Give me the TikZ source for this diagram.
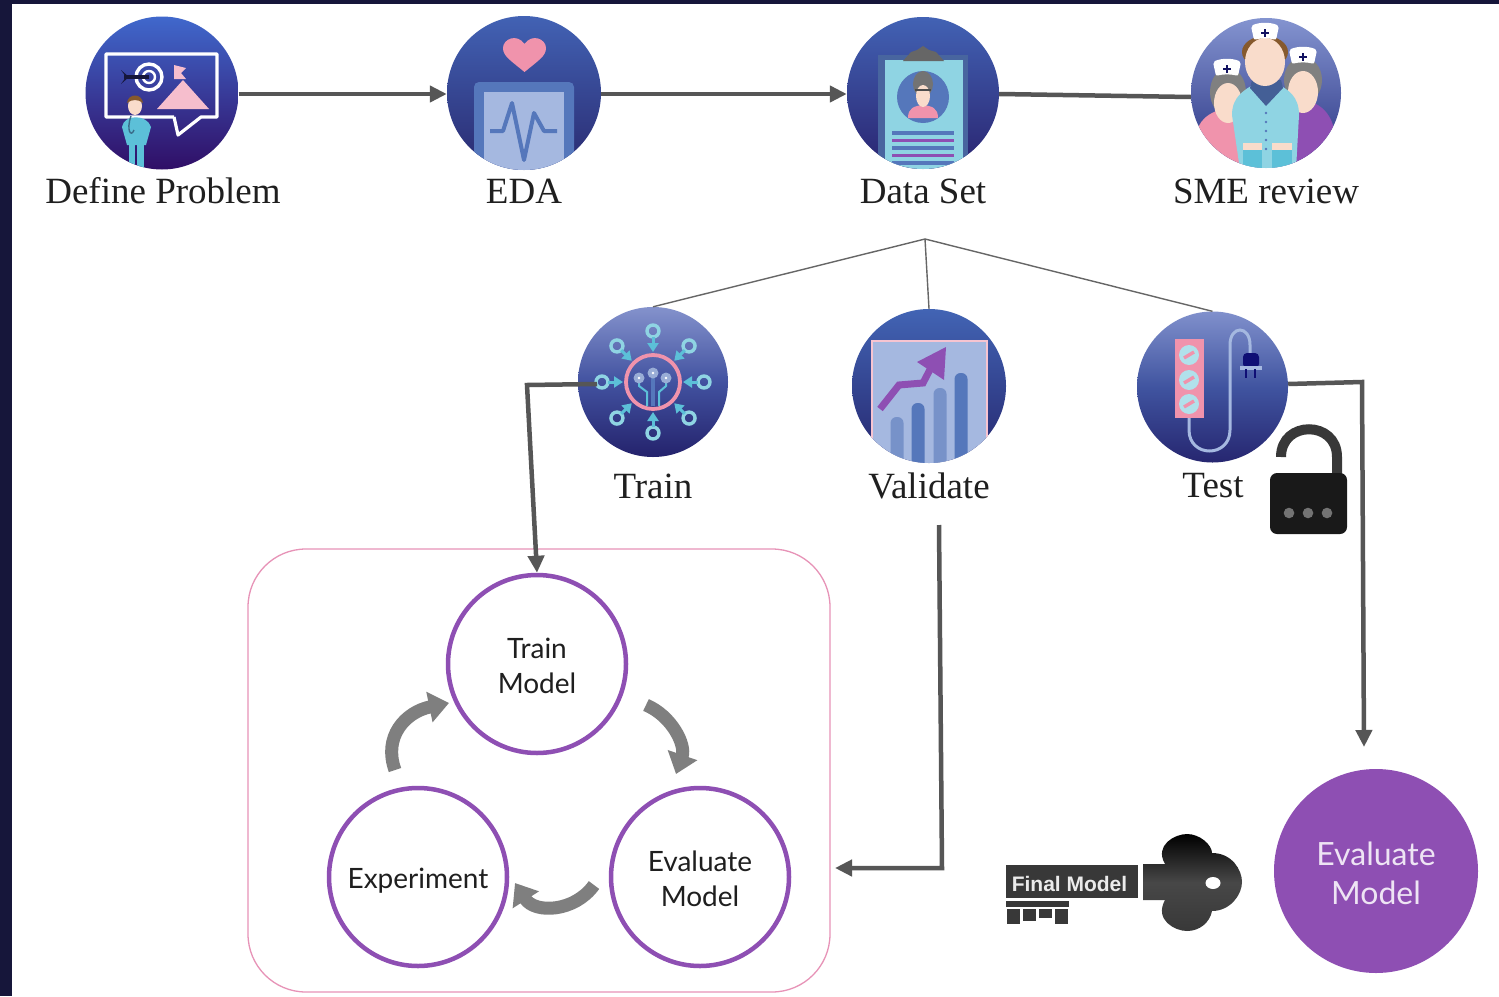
\documentclass[tikz,border=0pt]{standalone}
\usepackage{fontspec}
\setmainfont{Liberation Serif}
\newfontfamily\lbl{Lato}
\newfontfamily\keyfont{Liberation Sans}
\usetikzlibrary{arrows.meta,calc,shapes.geometric}
\definecolor{navy}{HTML}{16163A}
\definecolor{conn}{HTML}{565656}
\definecolor{thin}{HTML}{666666}
\definecolor{cyc}{HTML}{7F7F7F}
\definecolor{purp}{HTML}{8E4FB3}
\definecolor{boxp}{HTML}{E793B7}
\definecolor{pinkc}{HTML}{F093AC}
\definecolor{paleb}{HTML}{A5B8E0}
\definecolor{midb}{HTML}{5577BB}
\definecolor{teal}{HTML}{8FD4E3}
\definecolor{teald}{HTML}{5CC0D8}
\definecolor{skin}{HTML}{F9DCCB}
\tikzset{
  title/.style={font=\fontsize{37}{40}\selectfont,text=black!88,inner sep=0pt,anchor=center},
  flow/.style={draw=conn,line width=4.5pt,-{Triangle[length=17pt,width=16pt]}},
  twig/.style={draw=thin,line width=1.4pt},
  loopc/.style={circle,draw=purp,line width=4.5pt,minimum size=178pt,inner sep=0pt,fill=white},
  looptext/.style={inner sep=0pt,align=center,font=\lbl\fontsize{28}{35}\selectfont,text=black!88},
  cycarrow/.style={draw=cyc,line width=13pt,-{Triangle[length=20pt,width=30pt]}},
  nursecap/.pic={
    \fill[white,rounded corners=2pt] (-14,-7) .. controls (-6,-11) and (6,-11) .. (14,-7) -- (11,7) .. controls (4,5) and (-4,5) .. (-11,7) -- cycle;
    \draw[navy!80!blue,line width=2.4pt] (-4,0) -- (4,0) (0,-4) -- (0,4);
  },
}
\begin{document}
\begin{tikzpicture}[x=1pt,y=-1pt]
\useasboundingbox (0,0) rectangle (1499,996);
\fill[white] (0,0) rectangle (1499,996);
\fill[navy] (0,0) rectangle (1499,3.5);
\fill[navy] (0,0) rectangle (12,996);

% ---------- Define Problem
\node[circle,inner sep=0pt,minimum size=153pt,top color={rgb,255:red,64;green,104;blue,204},bottom color={rgb,255:red,48;green,14;blue,102}] (def) at (162,93) {};
\begin{scope}
\clip (162,93) circle (76.5);
\draw[white,line width=3.2pt,line join=round] (174,117) -- (106,117) -- (106,54) -- (217,54) -- (217,117) -- (201,117) -- (178,135) -- (174,117);
\draw[white,line width=3.4pt] (149,77) circle (13);
\draw[white,line width=2.4pt] (149,77) circle (6);
\draw[navy,line width=4pt] (124,77) -- (149,77);
\fill[navy] (121,70) -- (129,77) -- (121,84) -- (126,77) -- cycle;
\fill[pinkc!60!white] (157,109) -- (183,80) -- (209,109) -- cycle;
\fill[pinkc!60!white] (174,65) -- (186,68) -- (181,73) -- (186,79) -- (174,79) -- cycle;
\fill[teald] (129,140) rectangle (135,168);
\fill[teald] (137,140) rectangle (144,168);
\fill[teald] (122,127) .. controls (124,114) and (147,114) .. (151,127) -- (146,145) -- (127,145) -- cycle;
\draw[navy!50!teald,line width=1.4pt] (131,116) .. controls (126,130) and (131,138) .. (134,130);
\fill[skin] (135,106) ellipse (7 and 9);
\fill[brown!70!black] (127,103) .. controls (128,93) and (142,93) .. (143,103) .. controls (138,99) and (132,99) .. (127,103) -- cycle;
\end{scope}

% ---------- EDA
\node[circle,inner sep=0pt,minimum size=154pt,top color={rgb,255:red,66;green,98;blue,180},bottom color={rgb,255:red,42;green,42;blue,112}] (eda) at (524,93) {};
\begin{scope}
\clip (524,93) circle (77);
\fill[midb,rounded corners=5pt] (474,82) rectangle (574,180);
\fill[paleb] (484,92) rectangle (564,180);
\draw[midb,line width=4pt,line join=round] (490,131) -- (503,131) -- (512,103) -- (524,160) -- (534,113) -- (544,131) -- (557,131);
\fill[pinkc] (524.5,72) .. controls (510,60) and (503,56) .. (503,48) .. controls (503,39) and (517,33) .. (524.5,44) .. controls (532,33) and (546,39) .. (546,48) .. controls (546,56) and (539,60) .. (524.5,72) -- cycle;
\end{scope}

% ---------- Data Set
\node[circle,inner sep=0pt,minimum size=152pt,top color={rgb,255:red,66;green,98;blue,180},bottom color={rgb,255:red,42;green,36;blue,112}] (data) at (923,93) {};
\begin{scope}
\clip (923,93) circle (76);
\fill[midb!85!black] (878,55) rectangle (968,175);
\fill[teal] (885,60) rectangle (963,175);
\fill[black!60] (903,61) -- (911,52) -- (917,50) -- (923,46) -- (929,50) -- (936,52) -- (944,61) -- cycle;
\fill[midb] (923,97) circle (26);
\fill[pinkc] (908,118) .. controls (908,108) and (914,106) .. (923,105) .. controls (932,106) and (938,108) .. (938,118) -- cycle;
\fill[black!55] (923,84) ellipse (10 and 13);
\fill[skin] (923,96) ellipse (7 and 11);
\draw[black!70,line width=2.4pt] (915,90) -- (931,90);
\foreach \yy/\cc in {133/midb,140.5/purp,148/midb,155.5/purp,163/midb}{
  \draw[\cc,line width=3.4pt] (892,\yy) -- (954,\yy);
}
\end{scope}

% ---------- SME review
\node[circle,inner sep=0pt,minimum size=150pt,top color={rgb,255:red,132;green,148;blue,208},bottom color={rgb,255:red,40;green,50;blue,130}] (sme) at (1266,93) {};
\begin{scope}
\clip (1266,93) circle (75);
% right nurse
\fill[purp] (1286,105) .. controls (1300,96) and (1325,100) .. (1333,125) -- (1335,170) -- (1288,170) -- cycle;
\fill[black!50] (1303,80) ellipse (19 and 23);
\fill[skin] (1303,92) ellipse (15 and 21);
\pic at (1303,57) {nursecap};
% left nurse
\fill[pinkc] (1247,112) .. controls (1230,104) and (1205,110) .. (1198,128) -- (1205,170) -- (1245,170) -- cycle;
\fill[black!50] (1228,92) ellipse (18 and 24);
\fill[skin] (1228,103) ellipse (14 and 20);
\pic at (1227,69) {nursecap};
% central
\fill[teal] (1232,115) .. controls (1232,96) and (1245,90) .. (1254,84) -- (1278,84) .. controls (1288,90) and (1299,96) .. (1299,115) -- (1296,170) -- (1240,170) -- cycle;
\fill[skin] (1243,143) rectangle (1262,151);
\fill[skin] (1272,143) rectangle (1292,151);
\fill[teald] (1243,150) rectangle (1262,172);
\fill[teald] (1272,150) rectangle (1292,172);
\fill[midb!80!black] (1252,80) -- (1281,80) -- (1283,88) -- (1266,106) -- (1250,88) -- cycle;
\fill[brown!70!black] (1265,52) ellipse (23 and 16);
\fill[skin] (1265,62) ellipse (20 and 24);
\pic at (1265,33) {nursecap};
\foreach \yy in {113,122,131,140,149}{\fill[midb] (1266,\yy) circle (1.3);}
\end{scope}

% ---------- Train
\node[circle,inner sep=0pt,minimum size=150pt,top color={rgb,255:red,132;green,146;blue,204},bottom color={rgb,255:red,36;green,34;blue,108},middle color={rgb,255:red,66;green,82;blue,160}] (train) at (653,382) {};
\begin{scope}
\clip (653,382) circle (75);
\begin{scope}[shift={(653,382)}]
\foreach \a in {0,45,...,315}{
  \draw[teal,line width=3.4pt] (\a:51) circle (6);
  \draw[teald,line width=3pt,-{Triangle[length=9pt,width=11pt]}] (\a:45) -- (\a:30);
}
\draw[pinkc,line width=3.8pt] (0,0) circle (27);
\draw[teald,line width=2pt] (-14,-4) -- (-14,4) -- (-6,10) -- (-6,24);
\draw[teald,line width=2pt] (13,-4) -- (13,4) -- (6,10) -- (6,24);
\draw[midb,line width=3.5pt] (0,-9) -- (0,24);
\foreach \px/\py in {-14/-4,0/-9,13/-4}{
  \fill[midb!60!white] (\px,\py) circle (5.5);
  \fill[white] (\px,\py) circle (1.4);
}
\end{scope}
\end{scope}

% ---------- Validate
\node[circle,inner sep=0pt,minimum size=154pt,top color={rgb,255:red,66;green,100;blue,180},bottom color={rgb,255:red,38;green,38;blue,110}] (val) at (929,386) {};
\begin{scope}
\clip (929,386) circle (77);
\fill[paleb,draw=pinkc!55!white,line width=2.4pt] (872,341) rectangle (987,480);
\foreach \xx/\yy/\cc in {897/417/midb!80!white,918/403/midb,940/388/midb!80!white,961/373/midb}{
  \fill[\cc,rounded corners=6pt] (\xx-6.5,\yy) rectangle (\xx+6.5,480);
}
\draw[purp,line width=7pt,line join=miter] (880,409) -- (899,385) -- (923,383) -- (936,358);
\fill[purp] (917,362) -- (946,347) -- (944,380) -- cycle;
\end{scope}

% ---------- Test
\node[circle,inner sep=0pt,minimum size=151pt,top color={rgb,255:red,128;green,144;blue,204},bottom color={rgb,255:red,38;green,38;blue,112},middle color={rgb,255:red,64;green,84;blue,160}] (test) at (1212.5,387) {};
\begin{scope}
\clip (1212.5,387) circle (75.5);
\draw[paleb,line width=3pt] (1189,418) -- (1189,430) .. controls (1189,458) and (1230,458) .. (1230,430) -- (1230,345) .. controls (1230,325) and (1250,325) .. (1250,345) -- (1250,360);
\fill[pinkc] (1175,339) rectangle (1204,418);
\foreach \yy in {355,380,404}{
  \fill[teal!70!white] (1189,\yy) circle (10);
  \draw[pinkc,line width=3.4pt] (1184,\yy+3) -- (1194,\yy-3);
}
\fill[navy!70!blue,rounded corners=4pt] (1243,353) rectangle (1259,368);
\fill[paleb] (1240,366) rectangle (1262,370);
\draw[navy!70!blue,line width=2.4pt] (1246,369) -- (1246,378) (1255,369) -- (1255,378);
\end{scope}

% ---------- lock
\draw[black!78,line width=10pt] (1281,457) .. controls (1281,420) and (1337,420) .. (1337,457) -- (1337,475);
\fill[black!90,rounded corners=7pt] (1270,473) -- (1347,473) -- (1347,534) -- (1270,534) -- cycle;
\fill[black!55] (1289,513) circle (5.3);
\fill[black!55] (1308,513) circle (5.3);
\fill[black!55] (1327,513) circle (5.3);

% ---------- titles
\node[title] (tdef) at (163,191) {Define Problem};
\node[title] (teda) at (524,191) {EDA};
\node[title] (tdata) at (923,191) {Data Set};
\node[title] (tsme) at (1266,191) {SME review};
\node[title] (ttrain) at (653,486) {Train};
\node[title] (tval) at (929,486) {Validate};
\node[title] (ttest) at (1213,486) {Test};

% ---------- top flow
\draw[flow] ($(def.east)+(0,1)$) -- ($(eda.west)+(0,1)$);
\draw[flow] ($(eda.east)+(0,1)$) -- ($(data.west)+(0,1)$);
\draw[draw=conn,line width=4.5pt] ($(data.east)+(0,1)$) -- ($(sme.west)+(0,4)$);

% ---------- split
\coordinate (split) at (925,239);
\draw[twig] (split) -- (train.north);
\draw[twig] (split) -- (val.north);
\draw[twig] (split) -- (test.north);

% ---------- loop box
\node[draw=boxp,line width=1.3pt,rounded corners=58pt,minimum width=582pt,minimum height=443pt,inner sep=0pt] (loopbox) at (539,770.5) {};
\node[loopc] (mtrain) at (537,664) {};
\node[loopc] (meval) at (700,877) {};
\node[loopc] (mexp) at (418,877) {};
\node[looptext] (ltrain) at (537,666) {Train\\Model};
\node[looptext] (leval) at (700,879) {Evaluate\\Model};
\node[looptext] (lexp) at (418,881) {Experiment};

% ---------- connectors to the loop
\coordinate (trainin) at (597,384);
\coordinate (trainbend) at (527,385);
\draw[flow] (trainin) -- (trainbend) -- (mtrain.north);
\coordinate (valfrom) at (939,525);
\coordinate (valbend) at (942,868);
\coordinate (valto) at (835,868);
\draw[flow] (valfrom) -- (valbend) -- (valto);
\coordinate (testbend) at (1362,382);
\coordinate (testto) at (1364,747);
\draw[flow] ($(test.east)+(0,-3)$) -- (testbend) -- (testto);

% ---------- cycle arrows
\coordinate (c1a) at (395,770);
\coordinate (c1b) at (449,703);
\coordinate (c2a) at (646,705);
\coordinate (c2b) at (676,774);
\coordinate (c3a) at (594,885);
\coordinate (c3b) at (515,883);
\draw[cycarrow] (c1a) .. controls (383,737) and (405,712) .. (c1b);
\draw[cycarrow] (c2a) .. controls (672,716) and (686,745) .. (c2b);
\draw[cycarrow] (c3a) .. controls (575,912) and (535,914) .. (c3b);

% ---------- key
\fill[black!78] (1006,865) rectangle (1138,898);
\node[font=\keyfont\bfseries\fontsize{21}{24}\selectfont,text=white!92!black,inner sep=0pt] (keytext) at (1069.5,883.5) {Final Model};
\fill[black!78] (1006,901) rectangle (1069,907);
\fill[black!78] (1007,909) rectangle (1020,924);
\fill[black!78] (1023,909) rectangle (1036,921);
\fill[black!78] (1039,909) rectangle (1052,918);
\fill[black!78] (1055,909) rectangle (1068,924);
\shade[top color=black,bottom color=black!78,middle color=black!72] (1143,864) -- (1165,864) .. controls (1154,845) and (1175,834) .. (1187,834)
  .. controls (1200,834) and (1212,845) .. (1212,853) .. controls (1232,853) and (1242,870) .. (1242,882)
  .. controls (1242,895) and (1230,911) .. (1212,911) .. controls (1210,922) and (1200,931) .. (1187,931)
  .. controls (1175,931) and (1154,920) .. (1165,900) -- (1143,900) -- cycle;
\fill[white] (1213,883) ellipse (7.5 and 6);

% ---------- final evaluate
\node[circle,fill=purp,minimum size=204pt,inner sep=0pt] (final) at (1376,871) {};
\node[inner sep=0pt,align=center,font=\lbl\fontsize{32}{39}\selectfont,text=purp!15!white] (lfinal) at (1376,873) {Evaluate\\Model};
\end{tikzpicture}
\end{document}
